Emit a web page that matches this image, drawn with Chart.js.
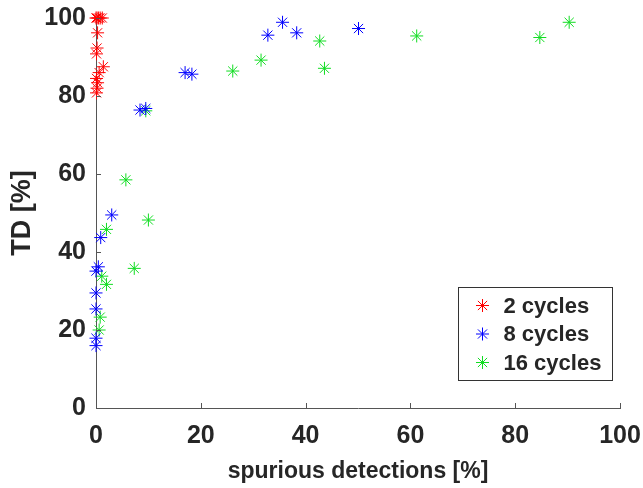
<!DOCTYPE html>
<html>
<head>
<meta charset="utf-8">
<script src="https://cdn.jsdelivr.net/npm/chart.js@4"></script>
<style>
  body { margin: 0; background: #fff; }
  #wrap { width: 643px; height: 488px; }
</style>
</head>
<body>
<div id="wrap"><canvas id="chart" width="643" height="488"></canvas></div>
<script>
// 2 cycles
const redX = [0.0, 0.2, 0.5, 0.8, 1.2, 0.3, 0.2, 0.1, 1.4, 0.6, 0.1, 0.3, 0.2, 0.1];
const redY = [100, 100, 100, 100, 100, 96.2, 92.3, 90.8, 87.5, 86.0, 84.5, 83.4, 82.0, 80.8];
// 8 cycles
const blueX = [3.0, 0.9, 0.45, 0.0, 0.0, 0.0, 0.0, 0.0, 8.4, 9.5, 17.0, 18.3, 32.8, 35.6, 38.3, 50.1];
const blueY = [49.5, 43.7, 36.2, 35.1, 29.5, 25.4, 17.9, 16.0, 76.4, 76.8, 86.0, 85.6, 95.6, 98.9, 96.2, 97.3];
// 16 cycles
const greenX = [10.0, 2.0, 7.3, 1.1, 2.0, 0.8, 0.6, 5.7, 9.5, 26.1, 31.5, 42.7, 43.6, 61.2, 84.7, 90.3];
const greenY = [48.2, 45.8, 35.8, 33.8, 31.7, 23.3, 20.0, 58.5, 76.2, 86.4, 89.2, 94.1, 87.1, 95.4, 95.0, 98.9];

const seriesNames = ["2 cycles", "8 cycles", "16 cycles"];
const xTicks = [0, 20, 40, 60, 80, 100];
const yTicks = [0, 20, 40, 60, 80, 100];

const textColor = "#262626";
const axisColor = "#555555";
const font = "'Liberation Sans', Arial, sans-serif";

function toPoints(xs, ys) {
    return xs.map((x, i) => ({ x: x, y: ys[i] }));
}

function makeSet(label, xs, ys, color) {
    return {
        label: label,
        data: toPoints(xs, ys),
        pointStyle: "star",
        pointRadius: 6.5,
        pointHoverRadius: 6.5,
        borderWidth: 1,
        pointBorderWidth: 1,
        borderColor: color,
        backgroundColor: color,
        hoverBorderColor: color,
        hoverBackgroundColor: color,
        clip: false
    };
}

// ticks pointing into the plot, like matlab
const innerTicks = {
    id: "innerTicks",
    afterDraw(chart) {
        const ctx = chart.ctx;
        const xs = chart.scales.x, ys = chart.scales.y;
        ctx.save();
        ctx.strokeStyle = axisColor;
        ctx.lineWidth = 1;
        ctx.beginPath();
        xTicks.forEach(v => {
            const px = Math.round(xs.getPixelForValue(v)) + 0.5;
            ctx.moveTo(px, ys.bottom);
            ctx.lineTo(px, ys.bottom - 5);
        });
        yTicks.forEach(v => {
            const py = Math.round(ys.getPixelForValue(v)) + 0.5;
            ctx.moveTo(xs.left, py);
            ctx.lineTo(xs.left + 5, py);
        });
        ctx.stroke();
        ctx.restore();
    }
};

// boxed legend in the lower right corner
const boxLegend = {
    id: "boxLegend",
    afterDraw(chart) {
        const ctx = chart.ctx;
        const left = 458.5, top = 287.5, w = 154, h = 93;
        ctx.save();
        ctx.fillStyle = "#fff";
        ctx.fillRect(left, top, w, h);
        ctx.strokeStyle = "#333";
        ctx.lineWidth = 1;
        ctx.strokeRect(left, top, w, h);
        ctx.font = "bold 22px " + font;
        ctx.textBaseline = "middle";
        chart.data.datasets.forEach((ds, i) => {
            const y = top + 18 + i * 28.5;
            ctx.strokeStyle = ds.borderColor;
            ctx.lineWidth = 1;
            Chart.helpers.drawPoint(ctx, { pointStyle: "star", radius: 6.5, borderWidth: 1 }, left + 24, y);
            ctx.fillStyle = textColor;
            ctx.fillText(ds.label, left + 45, y + 1);
        });
        ctx.restore();
    }
};

new Chart(document.getElementById("chart"), {
    type: "scatter",
    data: {
        datasets: [
            makeSet(seriesNames[0], redX, redY, "#ff0000"),
            makeSet(seriesNames[1], blueX, blueY, "#0000ff"),
            makeSet(seriesNames[2], greenX, greenY, "#11dd22")
        ]
    },
    options: {
        responsive: false,
        animation: false,
        events: [],
        layout: { padding: { left: 0, right: 23, top: 18, bottom: 0 } },
        plugins: {
            legend: { display: false },
            tooltip: { enabled: false }
        },
        scales: {
            x: {
                type: "linear",
                min: 0,
                max: 100,
                afterFit(scale) {
                    scale.height = 80;
                    scale.paddingLeft = 0;
                    scale.paddingRight = 0;
                },
                afterBuildTicks(scale) { scale.ticks = xTicks.map(v => ({ value: v })); },
                grid: { display: true, drawOnChartArea: false, drawTicks: false },
                border: { display: true, color: axisColor, width: 1 },
                ticks: {
                    padding: 13,
                    color: textColor,
                    font: { family: font, size: 25, weight: "bold" }
                },
                title: {
                    display: true,
                    text: "spurious detections [%]",
                    color: textColor,
                    font: { family: font, size: 23, weight: "bold" },
                    padding: { top: 0, bottom: 3 }
                }
            },
            y: {
                type: "linear",
                min: 0,
                max: 100,
                afterFit(scale) {
                    scale.width = 96;
                    scale.paddingTop = 0;
                    scale.paddingBottom = 0;
                },
                afterBuildTicks(scale) { scale.ticks = yTicks.map(v => ({ value: v })); },
                grid: { display: true, drawOnChartArea: false, drawTicks: false },
                border: { display: true, color: axisColor, width: 1 },
                ticks: {
                    padding: 10,
                    color: textColor,
                    font: { family: font, size: 25, weight: "bold" }
                },
                title: {
                    display: true,
                    text: "TD [%]",
                    color: textColor,
                    font: { family: font, size: 27, weight: "bold" },
                    padding: { top: 6, bottom: 0 }
                }
            }
        }
    },
    plugins: [innerTicks, boxLegend]
});
</script>
</body>
</html>
